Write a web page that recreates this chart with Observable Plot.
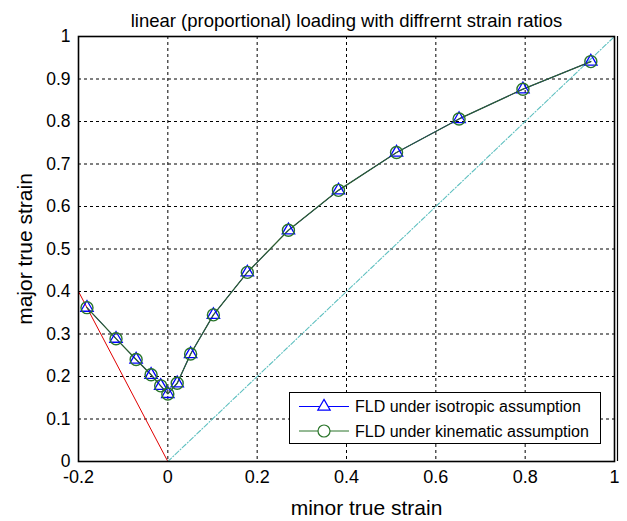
<!DOCTYPE html>
<html>
<head>
<meta charset="utf-8">
<script src="https://cdn.jsdelivr.net/npm/d3@7"></script>
<script src="https://cdn.jsdelivr.net/npm/@observablehq/plot@0.6"></script>
<style>
  html, body { margin: 0; padding: 0; background: #fff; }
  #wrap { position: relative; width: 627px; height: 521px; font-family: "Liberation Sans", Arial, sans-serif; }
  #legend { position: absolute; left: 289px; top: 392px; width: 312px; height: 52px; border: 1.5px solid #000; background: #fff; box-sizing: border-box; }
  #legend svg { position: absolute; left: 0; top: 0; }
</style>
</head>
<body>
<div id="wrap"></div>
<script>
const minorStrain = [-0.181, -0.116, -0.071, -0.0375, -0.016, 0, 0.021, 0.051, 0.102, 0.178, 0.270, 0.382, 0.512, 0.652, 0.795, 0.947];
const majorIso    = [0.362, 0.289, 0.240, 0.204, 0.178, 0.159, 0.184, 0.253, 0.345, 0.445, 0.544, 0.638, 0.727, 0.806, 0.876, 0.941];
const majorKin    = [0.362, 0.289, 0.240, 0.204, 0.178, 0.159, 0.184, 0.253, 0.345, 0.445, 0.544, 0.638, 0.727, 0.806, 0.876, 0.941];
const redLineX = [-0.2, 0];
const redLineY = [0.4, 0];
const diagX = [0, 1];
const diagY = [0, 1];
const xTicks = [-0.2, 0, 0.2, 0.4, 0.6, 0.8, 1];
const xTickLabels = ["-0.2", "0", "0.2", "0.4", "0.6", "0.8", "1"];
const yTicks = [0, 0.1, 0.2, 0.3, 0.4, 0.5, 0.6, 0.7, 0.8, 0.9, 1];
const yTickLabels = ["0", "0.1", "0.2", "0.3", "0.4", "0.5", "0.6", "0.7", "0.8", "0.9", "1"];
const seriesNames = ["FLD under isotropic assumption", "FLD under kinematic assumption"];
const titleText = "linear (proportional) loading with diffrernt strain ratios";
const xLabel = "minor true strain";
const yLabel = "major true strain";

const iso = minorStrain.map((x, i) => ({x, y: majorIso[i]}));
const kin = minorStrain.map((x, i) => ({x, y: majorKin[i]}));
const red = redLineX.map((x, i) => ({x, y: redLineY[i]}));
const diag = diagX.map((x, i) => ({x, y: diagY[i]}));

const blue = "#0000ff";
const green = "#2a752a";
const lineGreen = "#2e5f2e";

const chart = Plot.plot({
  width: 627,
  height: 521,
  marginLeft: 78,
  marginRight: 13,
  marginTop: 36,
  marginBottom: 60,
  style: {fontFamily: "'Liberation Sans', Arial, sans-serif", background: "#fff", color: "#000"},
  x: {domain: [-0.2, 1]},
  y: {domain: [0, 1]},
  marks: [
    Plot.ruleX(xTicks.slice(1, -1), {stroke: "#000", strokeWidth: 1, strokeDasharray: "3,3"}),
    Plot.ruleY(yTicks.slice(1, -1), {stroke: "#000", strokeWidth: 1, strokeDasharray: "3,3"}),
    Plot.line(red, {x: "x", y: "y", stroke: "#e00000", strokeWidth: 1}),
    Plot.line(diag, {x: "x", y: "y", stroke: "#5fc0c0", strokeWidth: 1.1, strokeDasharray: "5,2,1,2"}),
    Plot.line(iso, {x: "x", y: "y", stroke: blue, strokeWidth: 1}),
    Plot.line(kin, {x: "x", y: "y", stroke: lineGreen, strokeWidth: 1.3}),
    Plot.dot(iso, {x: "x", y: "y", symbol: "triangle", r: 4.6, stroke: blue, fill: "none", strokeWidth: 1.3}),
    Plot.dot(kin, {x: "x", y: "y", symbol: "circle", r: 6, stroke: green, fill: "none", strokeWidth: 1.4}),
    Plot.axisX(xTicks, {anchor: "bottom", tickSize: 0, tickPadding: 9, fontSize: 18, label: null, tickFormat: (d, i) => xTickLabels[i]}),
    Plot.axisY(yTicks, {anchor: "left", tickSize: 0, tickPadding: 8, fontSize: 17.5, label: null, tickFormat: (d, i) => yTickLabels[i]}),
    Plot.frame({stroke: "#000", strokeWidth: 1.6}),
    Plot.ruleX([1], {stroke: "#000", strokeWidth: 1.2, dx: 3}),
    Plot.text([titleText], {frameAnchor: "top", lineAnchor: "top", dy: -23, fontSize: 18.5, fill: "#000"}),
    Plot.text([xLabel], {frameAnchor: "bottom", lineAnchor: "bottom", dx: 20, dy: 53, fontSize: 21, fill: "#000"}),
    Plot.text([yLabel], {frameAnchor: "left", textAnchor: "middle", lineAnchor: "middle", dx: -53, rotate: -90, fontSize: 21, fill: "#000"})
  ]
});

const wrap = document.getElementById("wrap");
wrap.appendChild(chart);

// legend inside the axes (MATLAB style)
const legend = document.createElement("div");
legend.id = "legend";
const lsvg = d3.create("svg").attr("width", 312).attr("height", 52);
const entries = [
  {name: seriesNames[0], color: blue, sym: d3.symbolTriangle, r: 4.6},
  {name: seriesNames[1], color: green, sym: d3.symbolCircle, r: 6}
];
entries.forEach((e, i) => {
  const cy = 13.5 + i * 24.5;
  lsvg.append("line").attr("x1", 9).attr("x2", 59).attr("y1", cy).attr("y2", cy)
    .attr("stroke", e.color).attr("stroke-width", 1);
  lsvg.append("path").attr("d", d3.symbol(e.sym, Math.PI * e.r * e.r)())
    .attr("transform", `translate(34,${cy})`).attr("fill", "#fff").attr("stroke", e.color).attr("stroke-width", 1.2);
  lsvg.append("text").attr("x", 65).attr("y", cy).attr("dy", "0.35em")
    .attr("font-size", 16).attr("font-family", "'Liberation Sans', Arial, sans-serif").text(e.name);
});
legend.appendChild(lsvg.node());
wrap.appendChild(legend);
</script>
</body>
</html>
